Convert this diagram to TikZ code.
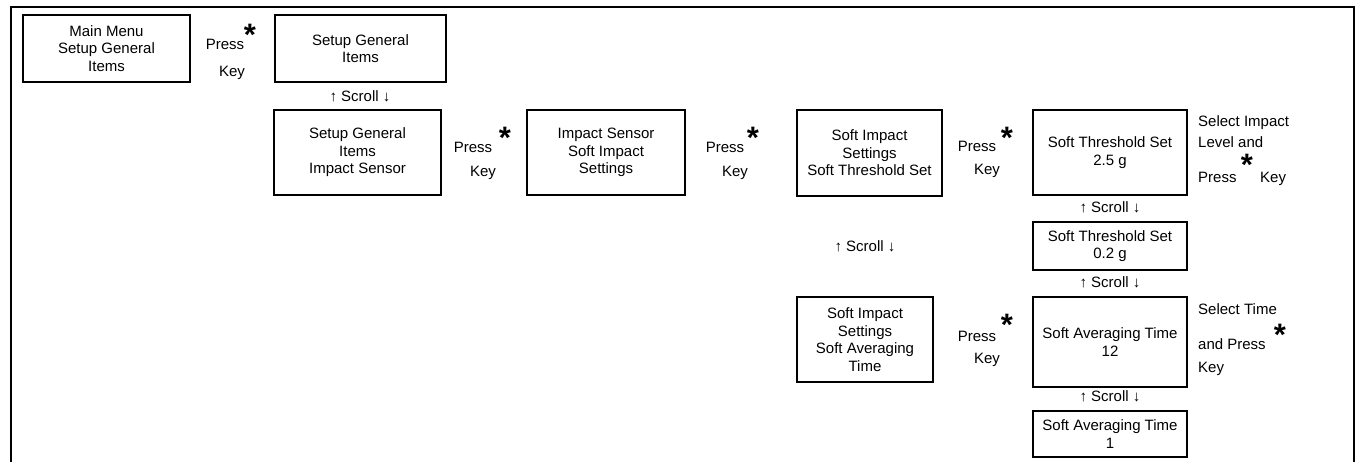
\documentclass[tikz,border=0pt]{standalone}
\usepackage{fontspec}
\setmainfont{Liberation Sans}
\begin{document}
\begin{tikzpicture}[x=1pt,y=-1pt,
  txt/.style={font=\fontsize{15}{17.5}\selectfont, inner sep=0pt, align=center},
  lbl/.style={txt, anchor=base},
  lblw/.style={txt, anchor=base west},
  mbox/.style={txt, draw, line width=1.5pt, rectangle},
  starmark/.style={font=\fontsize{31}{31}\selectfont\bfseries, inner sep=0pt, anchor=base}]
\useasboundingbox (0,0) rectangle (1358,462);
\coordinate (fbl) at (11,462);
\coordinate (ftl) at (11,7);
\coordinate (ftr) at (1354,7);
\coordinate (fbr) at (1354,462);
\draw[line width=2pt] (fbl) -- (ftl) -- (ftr) -- (fbr);

% boxes
\node[mbox, minimum width=167, minimum height=67] (mainmenu) at (106.5,48.5) {Main Menu\\Setup General\\Items};
\node[mbox, minimum width=171, minimum height=67] (setupgen) at (360.5,48.5) {Setup General\\Items};
\node[mbox, minimum width=167, minimum height=85] (impsensor) at (357.5,152.5) {Setup General\\Items\\Impact Sensor};
\node[mbox, minimum width=158, minimum height=85] (softimp) at (606,152.5) {Impact Sensor\\Soft Impact\\Settings};
\node[mbox, minimum width=145, minimum height=86] (thrset) at (869.5,153) {Soft Impact\\Settings\\Soft Threshold Set};
\node[mbox, minimum width=154, minimum height=85] (thrhi) at (1110,152.5) {Soft Threshold Set\\2.5 g};
\node[mbox, minimum width=154, minimum height=48] (thrlo) at (1110,246) {Soft Threshold Set\\0.2 g};
\node[mbox, minimum width=136, minimum height=85] (avgset) at (865,339.5) {Soft Impact\\Settings\\Soft Averaging\\Time};
\node[mbox, minimum width=154, minimum height=90] (avghi) at (1110,342) {Soft Averaging Time\\12};
\node[mbox, minimum width=154, minimum height=46] (avglo) at (1110,434) {Soft Averaging Time\\1};

% press key labels
\node[lbl] (p1) at (225,50) {Press};
\node[lbl] (k1) at (232,77) {Key};
\node[starmark] (s1) at (250,46) {*};
\node[lbl] (p2) at (473,153) {Press};
\node[lbl] (k2) at (483,177) {Key};
\node[starmark] (s2) at (505,149) {*};
\node[lbl] (p3) at (725,153) {Press};
\node[lbl] (k3) at (735,177) {Key};
\node[starmark] (s3) at (753,149) {*};
\node[lbl] (p4) at (977,152) {Press};
\node[lbl] (k4) at (987,175) {Key};
\node[starmark] (s4) at (1007,149) {*};
\node[lbl] (p5) at (977,342) {Press};
\node[lbl] (k5) at (987,363) {Key};
\node[starmark] (s5) at (1007,336) {*};

% select labels
\node[lblw] (sel1a) at (1198,127) {Select Impact};
\node[lblw] (sel1b) at (1198,148) {Level and};
\node[lblw] (sel1c) at (1198,183) {Press};
\node[starmark] (s6) at (1247,176) {*};
\node[lblw] (sel1d) at (1260,183) {Key};
\node[lblw] (sel2a) at (1198,315) {Select Time};
\node[lblw] (sel2b) at (1198,350) {and Press};
\node[lblw] (sel2c) at (1198,373) {Key};
\node[starmark] (s7) at (1280,346) {*};

% scroll labels
\node[lbl] (sc1) at (360,102) {↑ Scroll ↓};
\node[lbl] (sc2) at (1110,213) {↑ Scroll ↓};
\node[lbl] (sc3) at (1110,288) {↑ Scroll ↓};
\node[lbl] (sc4) at (865,252) {↑ Scroll ↓};
\node[lbl] (sc5) at (1110,402) {↑ Scroll ↓};
\end{tikzpicture}
\end{document}
